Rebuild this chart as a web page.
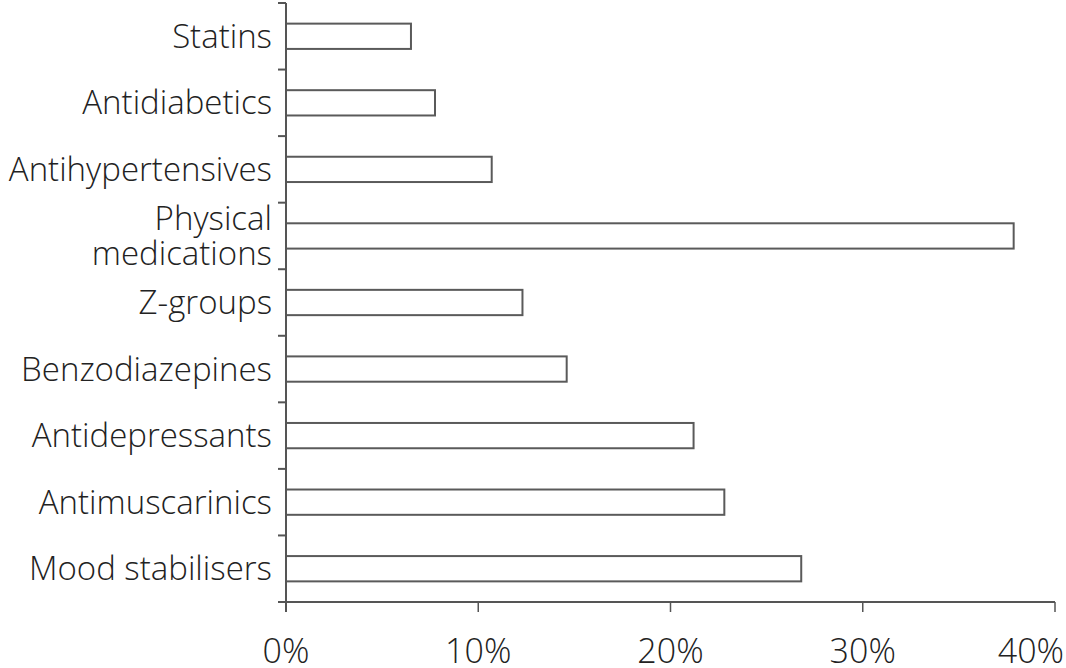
<!DOCTYPE html>
<html lang="en">
  <head>
    <meta charset="UTF-8" />
    <title>Medications</title>
    <script src="https://d3js.org/d3.v7.min.js"></script>
    <style>
      body {
        margin: 0;
        background: white;
      }
      .lbl {
        font-family: "Open Sans", sans-serif;
        font-weight: 300;
        fill: #222;
      }
    </style>
  </head>
  <body>
    <div id="container"></div>
    <script>
      const categories = [
        ["Statins"],
        ["Antidiabetics"],
        ["Antihypertensives"],
        ["Physical", "medications"],
        ["Z-groups"],
        ["Benzodiazepines"],
        ["Antidepressants"],
        ["Antimuscarinics"],
        ["Mood stabilisers"]
      ];
      const values = [6.5, 7.75, 10.7, 37.85, 12.3, 14.6, 21.2, 22.8, 26.8];
      const ticks = [0, 10, 20, 30, 40];

      const width = 1066;
      const height = 668;
      const margin = { top: 3, left: 286, right: 11, bottom: 66 };

      const svg = d3
        .select("#container")
        .append("svg")
        .attr("width", width)
        .attr("height", height);

      const x = d3
        .scaleLinear()
        .domain([0, 40])
        .range([margin.left, width - margin.right]);

      const y = d3
        .scaleBand()
        .domain(d3.range(categories.length))
        .range([margin.top, height - margin.bottom])
        .paddingInner(0.62)
        .paddingOuter(0.31);

      const step = y.step();
      const axisColor = "#555";

      // bars
      svg
        .selectAll("rect.bar")
        .data(values)
        .enter()
        .append("rect")
        .attr("class", "bar")
        .attr("x", x(0))
        .attr("y", (d, i) => y(i))
        .attr("width", (d) => x(d) - x(0))
        .attr("height", y.bandwidth())
        .attr("fill", "white")
        .attr("stroke", "#5a5a5a")
        .attr("stroke-width", 2);

      // y axis line and separator ticks
      const y0 = margin.top;
      const y1 = height - margin.bottom;
      svg
        .append("line")
        .attr("x1", x(0))
        .attr("x2", x(0))
        .attr("y1", y0)
        .attr("y2", y1 + 10)
        .attr("stroke", axisColor)
        .attr("stroke-width", 2);

      svg
        .selectAll("line.ytick")
        .data(d3.range(categories.length))
        .enter()
        .append("line")
        .attr("class", "ytick")
        .attr("x1", x(0) - 8)
        .attr("x2", x(0))
        .attr("y1", (d) => y0 + d * step)
        .attr("y2", (d) => y0 + d * step)
        .attr("stroke", axisColor)
        .attr("stroke-width", 2);

      // x axis
      svg
        .append("line")
        .attr("x1", x(0) - 8)
        .attr("x2", x(40))
        .attr("y1", y1)
        .attr("y2", y1)
        .attr("stroke", axisColor)
        .attr("stroke-width", 2);

      svg
        .selectAll("line.xtick")
        .data(ticks)
        .enter()
        .append("line")
        .attr("class", "xtick")
        .attr("x1", (d) => x(d))
        .attr("x2", (d) => x(d))
        .attr("y1", y1)
        .attr("y2", y1 + 10)
        .attr("stroke", axisColor)
        .attr("stroke-width", 1.5);

      svg
        .selectAll("text.xlbl")
        .data(ticks)
        .enter()
        .append("text")
        .attr("class", "lbl xlbl")
        .attr("x", (d) => (d === 40 ? width - 2 : x(d)))
        .attr("y", 663)
        .attr("text-anchor", (d) => (d === 40 ? "end" : "middle"))
        .style("font-size", "34px")
        .text((d) => d + "%");

      // category labels
      const labels = svg
        .selectAll("text.ylbl")
        .data(categories)
        .enter()
        .append("text")
        .attr("class", "lbl ylbl")
        .attr("text-anchor", "end")
        .style("font-size", "33px")
        .attr("transform", (d, i) => {
          const cy = y(i) + y.bandwidth() / 2;
          return "translate(272," + cy + ")";
        });

      labels
        .selectAll("tspan")
        .data((d) => d.map((t, j) => ({ t, j, n: d.length })))
        .enter()
        .append("tspan")
        .attr("x", 0)
        .attr("y", (d) => (d.j - (d.n - 1) / 2) * 35)
        .attr("dy", "0.35em")
        .text((d) => d.t);
    </script>
  </body>
</html>
